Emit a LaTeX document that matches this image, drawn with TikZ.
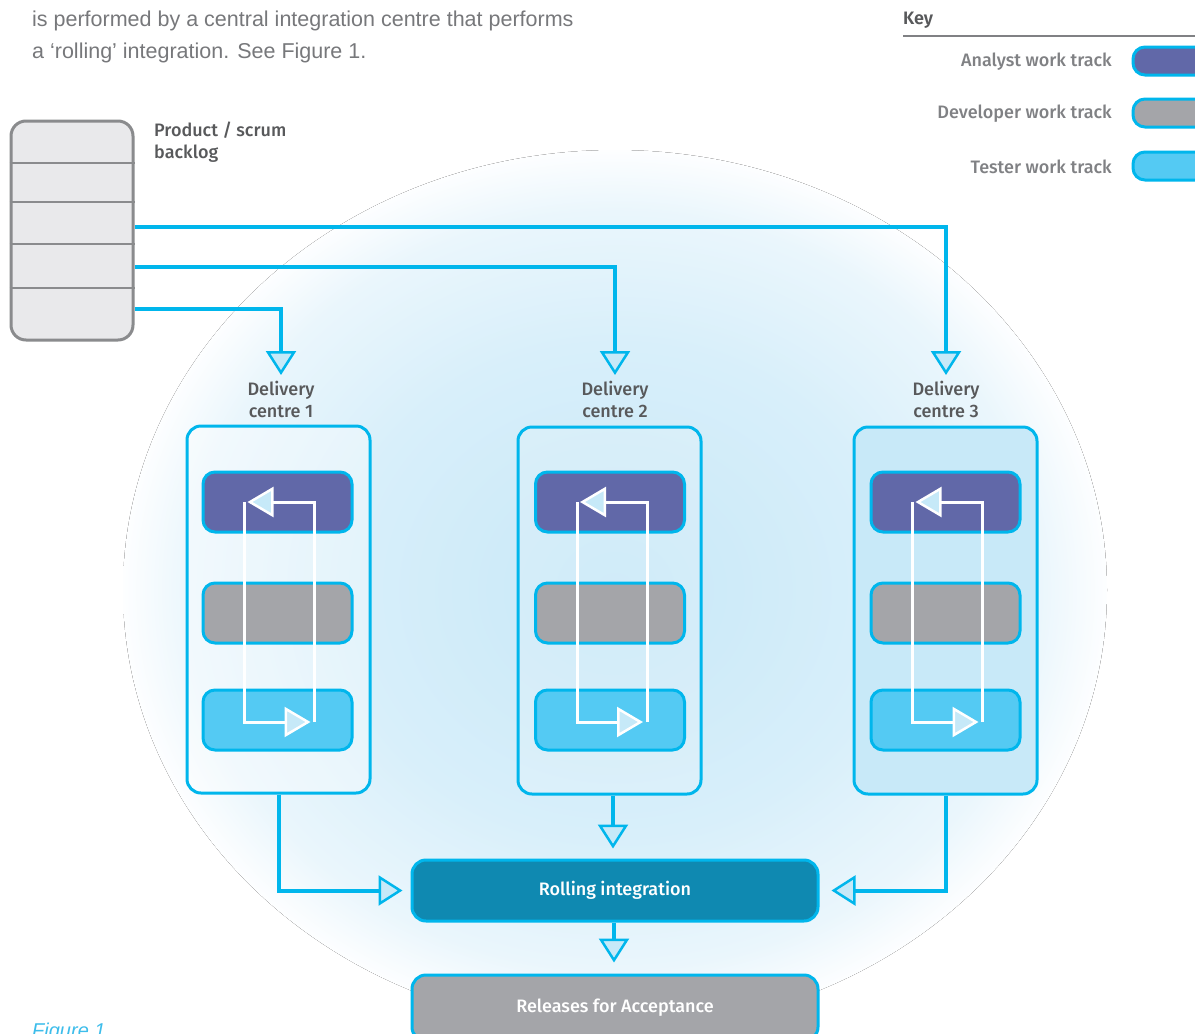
\documentclass[tikz,border=0pt]{standalone}
\usepackage{fontspec}
\setmainfont{Liberation Sans}
\IfFontExistsTF{Fira Sans Medium}{\newfontfamily\lab{Fira Sans Medium}[BoldFont={Fira Sans SemiBold}]}{\newfontfamily\lab{Fira Sans}}
\usetikzlibrary{arrows.meta,calc}
\definecolor{cy}{HTML}{00B6EC}
\definecolor{afill}{HTML}{C6E9F8}
\definecolor{analyst}{HTML}{6168A8}
\definecolor{devg}{HTML}{A4A5A9}
\definecolor{tester}{HTML}{54CAF3}
\definecolor{rint}{HTML}{0F89B1}
\definecolor{dcthree}{HTML}{C8E9F8}
\definecolor{labtxt}{HTML}{58595B}
\definecolor{keytxt}{HTML}{808184}
\definecolor{bodytxt}{HTML}{77787B}
\definecolor{blbg}{HTML}{E9E9EB}
\definecolor{blborder}{HTML}{8A8B8D}
\definecolor{glowa}{HTML}{C8E8F8}
\definecolor{glowb}{HTML}{D8EFFA}
\definecolor{glowc}{HTML}{EAF6FC}
\definecolor{glowd}{HTML}{FDFEFF}
\definecolor{captxt}{HTML}{3DBDEB}
\pgfdeclareradialshading{glow}{\pgfpoint{0bp}{0bp}}{color(0bp)=(glowa); color(14bp)=(glowb); color(21.5bp)=(glowc); color(25bp)=(glowd); color(50bp)=(glowd)}
\tikzset{
  labfont/.style={font=\lab\fontsize{18}{22}\selectfont},
  conn/.style={draw=cy, line width=4pt},
  tip/.style={-{Triangle[length=24pt,width=30pt,fill=afill,line width=2.5pt]}},
  wline/.style={draw=white, line width=3pt},
  wtip/.style={-{Triangle[length=26pt,width=30pt,fill=afill,line width=2.5pt]}},
  dcbox/.style={draw=cy, line width=3pt, rounded corners=14pt, minimum width=183pt, minimum height=367pt, inner sep=0pt},
  track/.style={draw=cy, line width=3pt, rounded corners=12pt, minimum width=149pt, minimum height=60pt, inner sep=0pt},
  bigbox/.style={draw=cy, line width=3pt, rounded corners=14pt, minimum width=406pt, inner sep=0pt, labfont, text=white},
  swatch/.style={draw=cy, line width=3pt, rounded corners=12pt, minimum width=82pt, minimum height=28pt, inner sep=0pt},
  keylab/.style={labfont, text=keytxt, anchor=east, inner sep=0pt},
  dclab/.style={labfont, text=labtxt, align=center, anchor=north, inner sep=0pt},
  bodyfont/.style={font=\fontsize{21.5}{26}\selectfont},
}
\begin{document}
\begin{tikzpicture}[x=1pt,y=-1pt]
\useasboundingbox (0,0) rectangle (1195,1034);
\fill[white] (0,0) rectangle (1195,1034);
% background glow
\fill[shading=glow] (615,590) ellipse [x radius=492pt, y radius=440pt];

% intro text
\node[anchor=base west, inner sep=0pt, text=bodytxt, bodyfont] (intro1) at (32,26.5) {is performed by a central integration centre that performs};
\node[anchor=base west, inner sep=0pt, text=bodytxt, bodyfont] (intro2) at (32,58) {a `rolling' integration. See Figure 1.};

% key
\node[labfont, text=labtxt, anchor=west, inner sep=0pt] (keyt) at (903,20) {\bfseries Key};
\draw[draw=keytxt, line width=1.2pt] (keyt.west |- 0,36) -- (1195,36);
\node[swatch, fill=analyst] (ka) at (1174,61) {};
\node[swatch, fill=devg] (kd) at (1174,113) {};
\node[swatch, fill=tester] (kt) at (1174,166) {};
\node[keylab] (kal) at (1112,62) {Analyst work track};
\node[keylab] (kdl) at (1112,114) {Developer work track};
\node[keylab] (ktl) at (1112,167) {Tester work track};

% backlog
\node[draw=blborder, fill=blbg, line width=3pt, rounded corners=15pt, minimum width=122pt, minimum height=219pt, inner sep=0pt] (bl) at (72,230.5) {};
\foreach \yy in {163,202,244,288}
  \draw[draw=blborder, line width=1.5pt] (bl.west |- 0,\yy) -- (bl.east |- 0,\yy);
\node[labfont, text=labtxt, align=left, anchor=north west, inner sep=0pt] (bll) at (154,122) {Product / scrum\\backlog};

% delivery centres
\node[dcbox, fill=white, fill opacity=0.35] (dc1) at (278.5,609.5) {};
\node[dcbox, fill=white, fill opacity=0.15] (dc2) at (609.5,610.5) {};
\node[dcbox, fill=dcthree] (dc3) at (945.5,610.5) {};
\node[dclab] (dl1) at (281,381) {Delivery\\centre 1};
\node[dclab] (dl2) at (615,381) {Delivery\\centre 2};
\node[dclab] (dl3) at (946,381) {Delivery\\centre 3};

\foreach \i/\cx in {1/277.5,2/610,3/945.5} {
  \node[track, fill=analyst] (an\i) at (\cx,502) {};
  \node[track, fill=devg] (dv\i) at (\cx,613) {};
  \node[track, fill=tester] (te\i) at (\cx,720) {};
  \draw[wline, wtip] ([xshift=-33pt]an\i.center) -- ([xshift=-33pt,yshift=-2pt]te\i.center) -- ([xshift=33pt,yshift=-2pt]te\i.center);
  \draw[wline, wtip] ([xshift=37pt,yshift=-2pt]te\i.center) -- ([xshift=37pt]an\i.center) -- ([xshift=-30pt]an\i.center);
}

% backlog connectors
\draw[conn, tip] (bl.east |- 0,227) -| ([yshift=6pt]dl3.north);
\draw[conn, tip] (bl.east |- 0,267) -| ([yshift=6pt]dl2.north);
\draw[conn, tip] (bl.east |- 0,309) -| ([yshift=6pt]dl1.north);

% integration
\node[bigbox, fill=rint, minimum height=61pt] (ri) at (615,890.5) {Rolling integration};
\node[bigbox, fill=devg, minimum height=66pt] (rel) at (615,1008) {Releases for Acceptance};

\draw[conn, tip] (dc1.south) |- ([xshift=-8pt]ri.west);
\draw[conn, tip] (dc3.south) |- ([xshift=12pt]ri.east);
\draw[conn, tip] (dc2.south -| 613,0) -- ($(ri.north -| 613,0)+(0,-10)$);
\draw[conn, tip] (ri.south -| 614,0) -- ($(rel.north -| 614,0)+(0,-11)$);

% caption
\node[anchor=base west, inner sep=0pt, text=captxt, font=\itshape\fontsize{20}{24}\selectfont] (cap) at (32,1037) {Figure 1};
\end{tikzpicture}
\end{document}
